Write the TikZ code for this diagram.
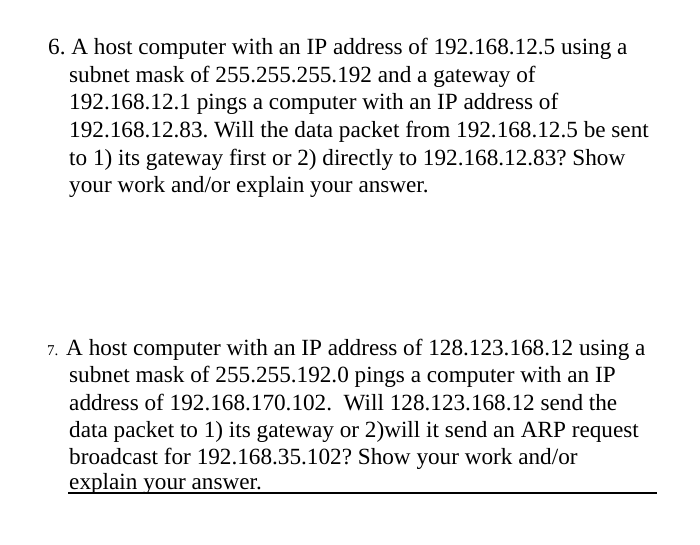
\documentclass[tikz,border=0pt]{standalone}
\usepackage{fontspec}
\setmainfont{Liberation Serif}
\frenchspacing
\begin{document}
\begin{tikzpicture}[x=1pt,y=-1pt,every node/.style={anchor=base west,inner sep=0pt,font=\fontsize{23.2}{27}\selectfont}]
\useasboundingbox (0,0) rectangle (700,545);
\node (a1) at (48,55) {6. A host computer with an IP address of 192.168.12.5 using a};
\node (a2) at (69,83) {subnet mask of 255.255.255.192 and a gateway of};
\node (a3) at (69,110) {192.168.12.1 pings a computer with an IP address of};
\node (a4) at (69,138) {192.168.12.83. Will the data packet from 192.168.12.5 be sent};
\node (a5) at (69,166) {to 1) its gateway first or 2) directly to 192.168.12.83? Show};
\node (a6) at (69,193) {your work and/or explain your answer.};
\node[font=\fontsize{15}{17}\selectfont] (b0) at (47,355) {7.};
\node (b1) at (66,355) {A host computer with an IP address of 128.123.168.12 using a};
\node (b2) at (69,382) {subnet mask of 255.255.192.0 pings a computer with an IP};
\node (b3) at (69,410) {address of 192.168.170.102.\ \ Will 128.123.168.12 send the};
\node (b4) at (69,437) {data packet to 1) its gateway or 2)will it send an ARP request};
\node (b5) at (69,464) {broadcast for 192.168.35.102? Show your work and/or};
\node (b6) at (69,489) {explain your answer.};
\coordinate (u1) at (68,493);
\coordinate (u2) at (657,493);
\draw[line width=1.2pt] (u1) -- (u2);
\end{tikzpicture}
\end{document}
